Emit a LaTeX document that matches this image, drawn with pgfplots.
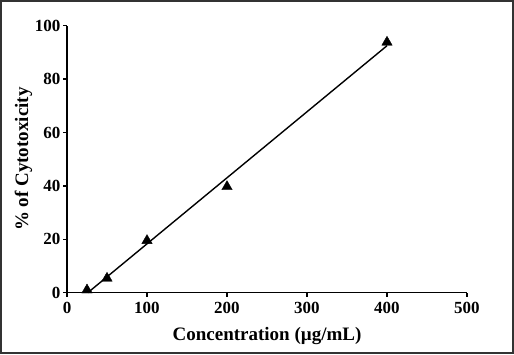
\documentclass[border=0pt]{standalone}
\usepackage{pgfplots}
\pgfplotsset{compat=1.18}
\usepackage{fontspec}
\setmainfont{Liberation Serif}
\begin{document}
\begin{tikzpicture}[x=1pt,y=1pt]
\draw[black!80,line width=2pt] (1,1) rectangle (513,353);
\begin{axis}[
  at={(67pt,61.3pt)}, anchor=origin,
  scale only axis, width=400pt, height=267pt,
  xmin=0, xmax=500, ymin=0, ymax=100,
  axis lines*=left,
  axis line style={line width=1.5pt},
  xtick={0,100,...,500}, ytick={0,20,...,100},
  tick style={black,line width=1.2pt},
  tick align=outside, major tick length=4pt,
  /pgf/number format/assume math mode=true,
  ticklabel style={font=\fontsize{17}{17}\selectfont\bfseries},
  xticklabel style={yshift=-2pt},
  yticklabel style={xshift=1pt},
  xlabel={Concentration (µg/mL)},
  ylabel={\% of Cytotoxicity},
  label style={font=\fontsize{19}{19}\selectfont\bfseries},
  xlabel style={yshift=-7pt},
  ylabel style={yshift=-4pt},
  clip=false,
]
\addplot[black, line width=1.4pt] coordinates {(26,0) (400,92.5)};
\addplot[only marks, mark=triangle*, mark size=6pt, black] coordinates {
(25,1.0) (50,5.4) (100,19.5) (200,39.7) (400,93.8)};
\end{axis}
\end{tikzpicture}
\end{document}
